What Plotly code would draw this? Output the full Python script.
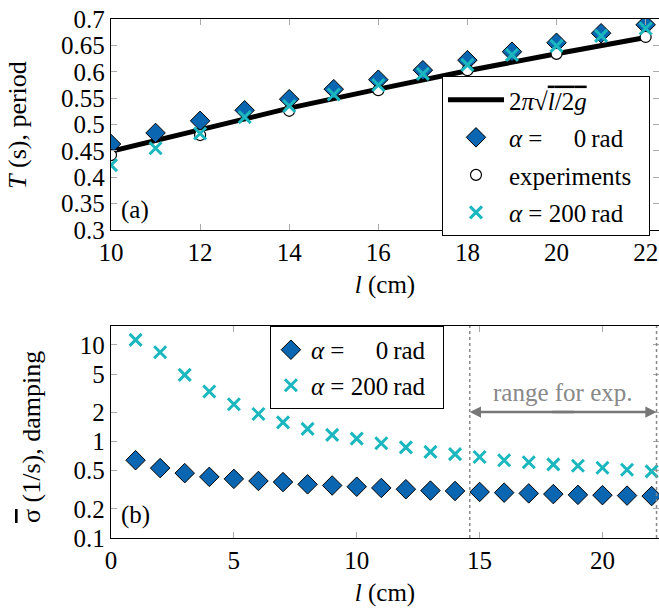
import plotly.graph_objects as go

# ---- data ----
l_top = [10, 11, 12, 13, 14, 15, 16, 17, 18, 19, 20, 21, 22]
T_alpha0 = [0.463, 0.484, 0.507, 0.527, 0.548, 0.567, 0.585, 0.603, 0.622, 0.638, 0.655, 0.673, 0.689]
T_alpha200 = [0.423, 0.455, 0.483, 0.514, 0.535, 0.557, 0.575, 0.596, 0.613, 0.632, 0.649, 0.668, 0.682]
l_exp = [10, 12, 14, 16, 18, 20, 22]
T_exp = [0.442, 0.480, 0.526, 0.565, 0.603, 0.634, 0.666]
l_theory = [10, 12, 14, 16, 18, 20, 22]
T_theory = [0.449, 0.491, 0.531, 0.567, 0.602, 0.634, 0.665]

l_bot = list(range(1, 23))
sig_alpha0 = [0.64, 0.53, 0.47, 0.43, 0.41, 0.39, 0.38, 0.36, 0.35, 0.34, 0.33, 0.32,
              0.31, 0.307, 0.30, 0.295, 0.29, 0.285, 0.28, 0.278, 0.275, 0.272]
sig_alpha200 = [11.3, 8.4, 4.9, 3.3, 2.43, 1.93, 1.58, 1.35, 1.17, 1.07, 0.96, 0.87,
                0.78, 0.74, 0.69, 0.64, 0.61, 0.58, 0.56, 0.535, 0.51, 0.49]

top_yticks = [0.3, 0.35, 0.4, 0.45, 0.5, 0.55, 0.6, 0.65, 0.7]
top_ytext = ["0.3", "0.35", "0.4", "0.45", "0.5", "0.55", "0.6", "0.65", "0.7"]
top_xticks = [10, 12, 14, 16, 18, 20, 22]
bot_yticks = [0.1, 0.2, 0.5, 1, 2, 5, 10]
bot_ytext = ["0.1", "0.2", "0.5", "1", "2", "5", "10"]
bot_xticks = [0, 5, 10, 15, 20]
exp_range = [14.6, 22.2]

BLUE = "#0a66b0"
CYAN = "#1bb7bf"
GRAY = "#888888"
FONT = "Liberation Serif"
EN = "\u2002"
TH = "\u2009"

lab_theory = "2<i>π</i>√<span style='text-decoration:overline'><i>l</i>/2<i>g</i></span>"
lab_a0 = "<i>α</i> = " + EN * 2 + "0" + TH + "rad"
lab_a200 = "<i>α</i> = 200" + TH + "rad"
lab_exp = "experiments" + EN

fig = go.Figure()

fig.add_trace(go.Scatter(x=l_theory, y=T_theory, mode="lines",
                         line=dict(color="black", width=5),
                         name=lab_theory, legend="legend", legendgroup="a",
                         xaxis="x", yaxis="y"))
fig.add_trace(go.Scatter(x=l_top, y=T_alpha0, mode="markers",
                         marker=dict(symbol="diamond", size=15, color=BLUE,
                                     line=dict(color="black", width=1)),
                         name=lab_a0, legend="legend", legendgroup="b",
                         xaxis="x", yaxis="y"))
fig.add_trace(go.Scatter(x=l_exp, y=T_exp, mode="markers",
                         marker=dict(symbol="circle", size=11, color="white",
                                     line=dict(color="black", width=1.2)),
                         name=lab_exp, legend="legend", legendgroup="c",
                         xaxis="x", yaxis="y"))
fig.add_trace(go.Scatter(x=l_top, y=T_alpha200, mode="markers",
                         marker=dict(symbol="x-thin", size=12, color=CYAN,
                                     line=dict(color=CYAN, width=3)),
                         name=lab_a200, legend="legend", legendgroup="d",
                         xaxis="x", yaxis="y"))

fig.add_trace(go.Scatter(x=l_bot, y=sig_alpha0, mode="markers",
                         marker=dict(symbol="diamond", size=15, color=BLUE,
                                     line=dict(color="black", width=1)),
                         name=lab_a0, legend="legend2", legendgroup="e",
                         xaxis="x2", yaxis="y2"))
fig.add_trace(go.Scatter(x=l_bot, y=sig_alpha200, mode="markers",
                         marker=dict(symbol="x-thin", size=12, color=CYAN,
                                     line=dict(color=CYAN, width=3)),
                         name=lab_a200 + EN, legend="legend2", legendgroup="f",
                         xaxis="x2", yaxis="y2"))

axis_common = dict(showline=True, linecolor="black", linewidth=1.3, mirror="ticks",
                   ticks="inside", tickcolor="#aaaaaa", ticklen=6, tickwidth=1.3,
                   showgrid=False, zeroline=False,
                   tickfont=dict(family=FONT, size=25, color="black"))

fig.update_layout(
    width=659, height=608,
    margin=dict(l=111, r=0, t=19, b=70),
    paper_bgcolor="white", plot_bgcolor="white",
    font=dict(family=FONT, size=24, color="black"),
    xaxis=dict(domain=[0, 1], anchor="y", range=[10, 22.3], tickvals=top_xticks,
               title=dict(text="<i>l</i> (cm)", font=dict(family=FONT, size=25), standoff=10),
               **axis_common),
    yaxis=dict(domain=[0.5934, 1], anchor="x", range=[0.3, 0.7], tickvals=top_yticks,
               ticktext=top_ytext, **axis_common),
    xaxis2=dict(domain=[0, 1], anchor="y2", range=[0, 22.3], tickvals=bot_xticks,
                title=dict(text="<i>l</i> (cm)", font=dict(family=FONT, size=25), standoff=10),
                **axis_common),
    yaxis2=dict(domain=[0, 0.4085], anchor="x2", type="log", range=[-1, 1.197],
                tickvals=bot_yticks, ticktext=bot_ytext, **axis_common),
    legend=dict(x=0.604, y=0.890, xanchor="left", yanchor="top",
                bordercolor="black", borderwidth=1, bgcolor="white",
                font=dict(family=FONT, size=25), tracegroupgap=2,
                itemwidth=56, traceorder="grouped"),
    legend2=dict(x=0.290, y=0.4085, xanchor="left", yanchor="top",
                 bordercolor="black", borderwidth=1, bgcolor="white",
                 font=dict(family=FONT, size=25), tracegroupgap=0,
                 traceorder="grouped"),
    showlegend=True,
)

for xv in exp_range:
    fig.add_shape(type="line", xref="x2", yref="y2 domain", x0=xv, x1=xv, y0=0, y1=1,
                  line=dict(color=GRAY, width=1.5, dash="dot"))

# double-headed arrow: two overlapping arrows pointing outwards from the middle
mid = sum(exp_range) / 2
for xv, tail in ((exp_range[0], mid + 0.5), (exp_range[1], mid - 0.5)):
    fig.add_annotation(xref="x2", yref="y2 domain", axref="x2", ayref="y2 domain",
                       x=xv, y=0.594, ax=tail, ay=0.594,
                       showarrow=True, arrowhead=2, arrowsize=0.9, standoff=0,
                       startstandoff=0, arrowwidth=2.5, arrowcolor="#777777", text="")
fig.add_annotation(xref="x2", yref="y2 domain", x=mid, y=0.684, yanchor="middle",
                   xanchor="center", text="range for exp.", showarrow=False,
                   font=dict(family=FONT, size=25, color=GRAY))

fig.add_annotation(xref="x domain", yref="y domain", x=0.015, y=0.095, xanchor="left",
                   yanchor="middle", text="(a)", showarrow=False,
                   font=dict(family=FONT, size=25))
fig.add_annotation(xref="x2 domain", yref="y2 domain", x=0.015, y=0.108, xanchor="left",
                   yanchor="middle", text="(b)", showarrow=False,
                   font=dict(family=FONT, size=25))

fig.add_annotation(xref="paper", yref="paper", x=(18 - 111) / 548, y=(538 - 125) / 519,
                   xanchor="center", yanchor="middle",
                   text="<i>T</i> (s), period", textangle=-90, showarrow=False,
                   font=dict(family=FONT, size=26))
fig.add_annotation(xref="paper", yref="paper", x=(31 - 111) / 548, y=(538 - 437) / 519,
                   xanchor="center", yanchor="middle",
                   text="<span style='text-decoration:overline'>σ</span> (1/s), damping",
                   textangle=-90, showarrow=False,
                   font=dict(family=FONT, size=26))

fig.write_html("out.html", config={"displayModeBar": False})

# remove the default body margin so the figure fills the 659x608 window exactly
with open("out.html", "r", encoding="utf-8") as f:
    html = f.read()
html = html.replace("<head>", "<head><style>html,body{margin:0;padding:0;overflow:hidden;}</style>", 1)
with open("out.html", "w", encoding="utf-8") as f:
    f.write(html)
